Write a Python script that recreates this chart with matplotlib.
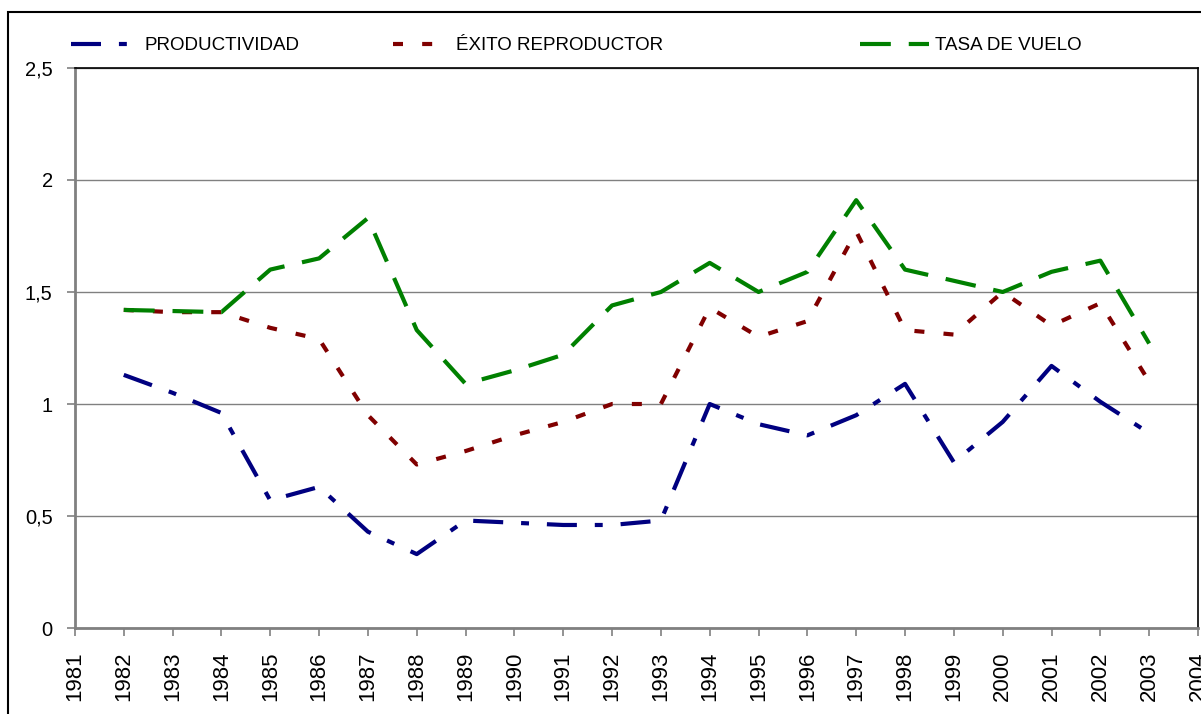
import matplotlib.pyplot as plt
import numpy as np
from matplotlib.patches import Rectangle

plt.rcParams['font.family'] = ['Liberation Sans', 'DejaVu Sans']

# Data
years = list(range(1982, 2004))
productividad = [1.13, 1.05, 0.96, 0.57, 0.63, 0.43, 0.33, 0.48, 0.47, 0.46, 0.46,
                 0.48, 1.00, 0.91, 0.86, 0.95, 1.09, 0.74, 0.92, 1.17, 1.01, 0.87]
exito = [1.42, 1.41, 1.41, 1.34, 1.29, 0.95, 0.73, 0.79, 0.86, 0.92, 1.00,
         1.00, 1.43, 1.30, 1.37, 1.77, 1.33, 1.31, 1.50, 1.35, 1.45, 1.10]
tasa = [1.42, 1.415, 1.41, 1.60, 1.65, 1.83, 1.33, 1.09, 1.15, 1.22, 1.44,
        1.50, 1.63, 1.50, 1.59, 1.91, 1.60, 1.55, 1.50, 1.59, 1.64, 1.27]
yticks = [0, 0.5, 1, 1.5, 2, 2.5]
ytick_labels = ['0', '0,5', '1', '1,5', '2', '2,5']

navy = '#000080'
maroon = '#800000'
green = '#008000'
gray = '#808080'
lw = 3.0

fig = plt.figure(figsize=(12.01, 7.14), dpi=100)
ax = fig.add_axes([0.0624, 0.1204, 0.9351, 0.7844])

l1, = ax.plot(years, productividad, color=navy, lw=lw, dashes=(7.2, 4.3, 1.9, 4.3))
l2, = ax.plot(years, exito, color=maroon, lw=lw, dashes=(2.4, 4.6))
l3, = ax.plot(years, tasa, color=green, lw=lw, dashes=(7.4, 4.3))

ax.set_xlim(1981, 2004)
ax.set_ylim(0, 2.5)
ax.set_xticks(range(1981, 2005))
ax.set_xticklabels([str(y) for y in range(1981, 2005)], rotation=90)
ax.set_yticks(yticks)
ax.set_yticklabels(ytick_labels)
ax.tick_params(axis='both', direction='out', length=6, width=1.2, color=gray)
ax.tick_params(axis='x', labelsize=16, pad=11)
ax.tick_params(axis='y', labelsize=14.5, pad=10)

ax.grid(axis='y', color=gray, lw=1)
ax.set_axisbelow(True)
for side in ['left', 'bottom']:
    ax.spines[side].set_color(gray)
    ax.spines[side].set_linewidth(2)
for side in ['top', 'right']:
    ax.spines[side].set_color('black')
    ax.spines[side].set_linewidth(1.2)

# legend entries spread across the top, one legend each
entries = [(l1, 'PRODUCTIVIDAD', 0.059, 3.5, 0.45),
           (l2, 'ÉXITO REPRODUCTOR', 0.327, 3.1, 0.3),
           (l3, 'TASA DE VUELO', 0.716, 3.7, 0.3)]
for handle, text, xpos, hlen, pad in entries:
    fig.legend([handle], [text], loc='center left', bbox_to_anchor=(xpos, 0.936),
               frameon=False, fontsize=13.5, handlelength=hlen, handletextpad=pad,
               borderpad=0, borderaxespad=0)

# outer chart border
fig.patches.append(Rectangle((0.0067, -0.1), 1.0, 1.083, transform=fig.transFigure,
                             fill=False, edgecolor='black', lw=1.5))

fig.savefig('out.png', dpi=100)
